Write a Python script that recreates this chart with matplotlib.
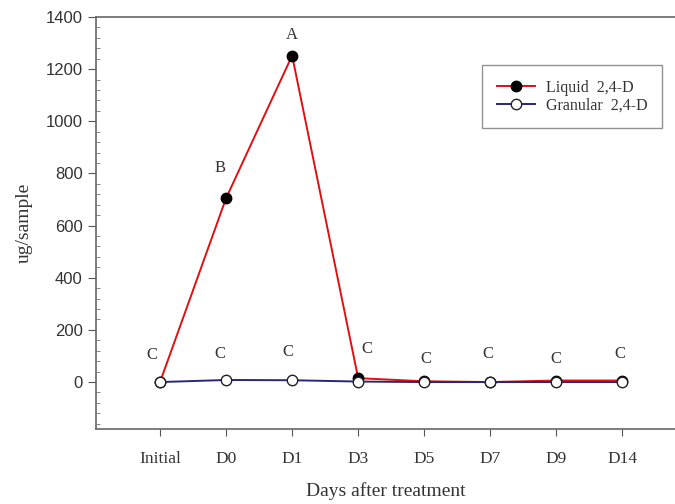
import matplotlib
matplotlib.use('Agg')
import matplotlib.pyplot as plt
from matplotlib.ticker import MultipleLocator

# data
days = ['Initial', 'D0', 'D1', 'D3', 'D5', 'D7', 'D9', 'D14']
liquid = [0, 705, 1252, 15, 3, 0, 6, 6]
granular = [0, 8, 7, 2, 0, 0, 0, 0]

# significance letters and where they sit
letters = ['C', 'B', 'A', 'C', 'C', 'C', 'C', 'C']
letter_y = [104, 821, 1331, 127, 88, 107, 90, 107]
letter_dx = [-0.13, -0.09, 0.0, 0.13, 0.02, -0.04, 0.0, -0.04]
# the C letters above the granular points at D0 and D1
low_letter_y = [107, 115]
low_letter_dx = [-0.1, -0.07]

serif = ['Liberation Serif', 'DejaVu Serif']
sans = ['Liberation Sans', 'DejaVu Sans']

fig = plt.figure(figsize=(6.75, 5.04), dpi=100)
ax = fig.add_axes([0.1422, 0.1488, 0.858, 0.8175])

x = list(range(len(days)))
ax.plot(x, liquid, color='#e01010', lw=1.4, marker='o', ms=7.5,
        mfc='black', mec='black', label='Liquid  2,4-D', zorder=3)
ax.plot(x, granular, color='#27277a', lw=1.4, marker='o', ms=7.5,
        mfc='white', mec='#222222', mew=1.0, label='Granular  2,4-D', zorder=4)

for i, (lab, yy, dx) in enumerate(zip(letters, letter_y, letter_dx)):
    ax.text(i + dx, yy, lab, ha='center', va='center', fontsize=12,
            family=serif, color='#333333')
for i, (yy, dx) in enumerate(zip(low_letter_y, low_letter_dx)):
    ax.text(i + 1 + dx, yy, 'C', ha='center', va='center', fontsize=12,
            family=serif, color='#333333')

ax.set_xlim(-0.97, 7.8)
ax.set_ylim(-180, 1400)
ax.set_xticks(x)
ax.set_xticklabels(days, family=serif, fontsize=12.5)
ax.yaxis.set_major_locator(MultipleLocator(200))
ax.yaxis.set_minor_locator(MultipleLocator(40))
for t in ax.get_yticklabels():
    t.set_family(sans)
    t.set_fontsize(12)
ax.tick_params(axis='y', which='major', direction='out', length=6, color='#555555',
               labelcolor='#333333')
ax.tick_params(axis='y', which='minor', direction='in', length=3, color='#777777')
ax.tick_params(axis='x', direction='out', length=5, color='#555555', pad=11,
               labelcolor='#333333')

for s in ['left', 'top', 'bottom']:
    ax.spines[s].set_color('#666666')
    ax.spines[s].set_linewidth(1.2)
ax.spines['right'].set_visible(False)

ax.set_xlabel('Days after treatment', family=serif, fontsize=14, labelpad=11,
              color='#333333')
ax.set_ylabel('ug/sample', family=serif, fontsize=14, labelpad=9, color='#333333')

leg = ax.legend(loc='upper left', bbox_to_anchor=(0.667, 0.883),
                prop={'family': serif, 'size': 11.5}, frameon=True, fancybox=False,
                handlelength=2.4, handletextpad=0.7, borderpad=0.9,
                labelspacing=0.15, borderaxespad=0)
leg.get_frame().set_edgecolor('#777777')
leg.get_frame().set_linewidth(1.0)
for t in leg.get_texts():
    t.set_color('#333333')

fig.savefig('out.png', dpi=100)
